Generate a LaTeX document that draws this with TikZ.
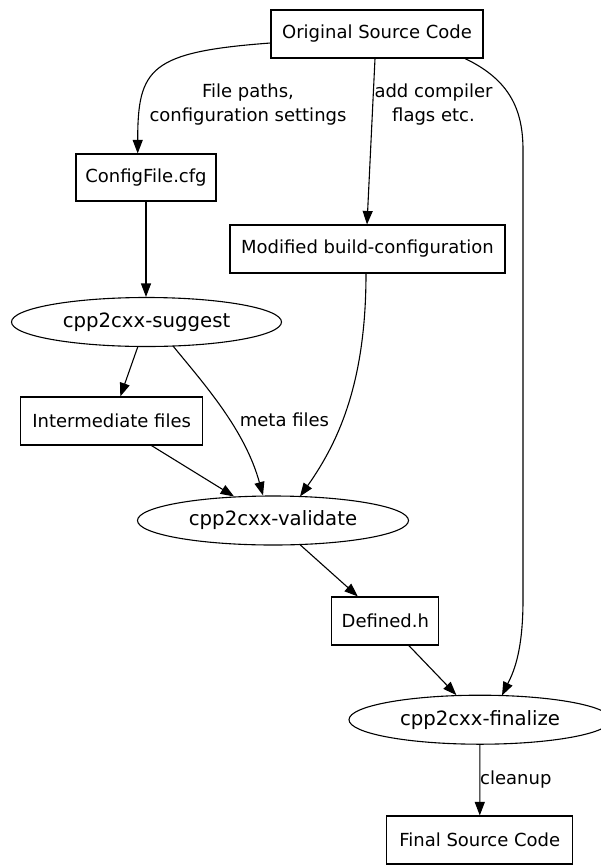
\documentclass[tikz,border=0pt]{standalone}
\usepackage{fontspec}
\setmainfont{DejaVu Sans}
\usetikzlibrary{arrows.meta,shapes.geometric,calc}
\begin{document}
\begin{tikzpicture}[x=1pt,y=-1pt,
  every node/.style={font=\fontsize{18}{24}\selectfont},
  box/.style={draw,rectangle,line width=1.1pt,inner sep=0pt},
  oval/.style={draw,ellipse,line width=1.1pt,inner sep=0pt,font=\fontsize{19.7}{24}\selectfont},
  lbl/.style={inner sep=0pt,align=center},
  edge/.style={line width=1.1pt,-{Triangle[length=13.5pt,width=10pt]}}]
\useasboundingbox (0,0) rectangle (600,865);
% nodes
\node[box,minimum width=212pt,minimum height=48pt] (orig) at (377,34) {Original Source Code};
\node[box,minimum width=140pt,minimum height=47pt] (config) at (146,177.5) {ConfigFile.cfg};
\node[box,minimum width=275pt,minimum height=48pt] (modified) at (367.5,249) {Modified build-configuration};
\node[oval,minimum width=270pt,minimum height=49pt] (suggest) at (146.5,322) {cpp2cxx-suggest};
\node[box,minimum width=182pt,minimum height=48pt] (inter) at (111.7,421) {Intermediate files};
\node[oval,minimum width=271pt,minimum height=49pt] (validate) at (273,520.5) {cpp2cxx-validate};
\node[box,minimum width=107pt,minimum height=48pt] (defined) at (385.3,621) {Defined.h};
\node[oval,minimum width=262pt,minimum height=49pt] (finalize) at (480,719.7) {cpp2cxx-finalize};
\node[box,minimum width=186pt,minimum height=48pt] (final) at (479.7,840) {Final Source Code};
% edges
\draw[edge] ([yshift=-9pt]orig.west) .. controls (150,52) and (137.7,68) .. ([xshift=-8.3pt]config.north);
\node[lbl] (l1) at (248,105) {File paths,\\configuration settings};
\draw[edge] ([xshift=-2pt]orig.south) -- ([xshift=-0.5pt]modified.north);
\node[lbl] (l2) at (433.5,105) {add compiler\\flags etc.};
\draw[edge] ([xshift=88pt]orig.south) .. controls (510,80) and (523,110) .. (523,150)
  -- (523,600) .. controls (523,655) and (512,675) .. ($(finalize.center)+(22,-24.2)$);
\draw[edge] (config.south) -- (config.south |- suggest.north);
\draw[edge] (suggest) -- (inter);
\draw[edge] ($(suggest.center)+(26.5,24)$) .. controls (205,385) and (245,430) .. ([xshift=-10pt]validate.north);
\node[lbl] (l3) at (284.5,420) {meta files};
\draw[edge] ([xshift=-1.5pt]modified.south) .. controls (366,380) and (340,440) .. ($(validate.center)+(27,-24)$);
\draw[edge] (inter) -- (validate);
\draw[edge] (validate) -- (defined);
\draw[edge] (defined) -- (finalize);
\draw[edge] (finalize) -- (final);
\node[lbl,anchor=west] (l4) at (480,780) {cleanup};
\end{tikzpicture}
\end{document}
